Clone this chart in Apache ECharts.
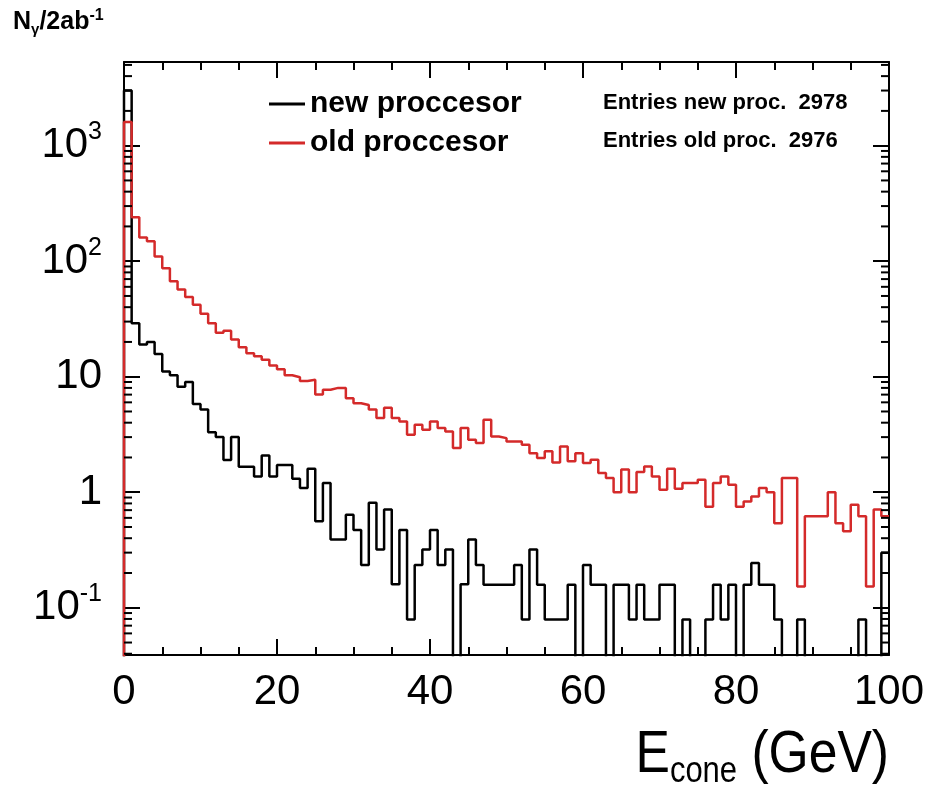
<!DOCTYPE html>
<html>
<head>
<meta charset="utf-8">
<script src="https://cdn.jsdelivr.net/npm/echarts@6/dist/echarts.min.js"></script>
<style>
  html, body { margin: 0; padding: 0; background: #fff; }
  #chart { width: 934px; height: 789px; }
</style>
</head>
<body>
<div id="chart"></div>
<script>
// 100 bins of 1 GeV, E_cone from 0 to 100
const binWidth = 1

// new processor (black), weighted counts per bin, 0 = empty bin
const newProc = [
  3000, 29, 19, 20, 15.7, 11.1, 10.3, 8.2, 9.0, 5.8,
  5.2, 3.3, 3.0, 1.9, 3.0, 1.66, 1.66, 1.37, 2.08, 1.37,
  1.72, 1.72, 1.31, 1.09, 1.6, 0.56, 1.2, 0.39, 0.39, 0.64,
  0.47, 0.235, 0.81, 0.32, 0.71, 0.16, 0.47, 0.079, 0.235, 0.32,
  0.47, 0.235, 0.32, 0, 0.16, 0.39, 0.235, 0.158, 0.158, 0.158,
  0.158, 0.235, 0.079, 0.32, 0.158, 0.079, 0.079, 0.079, 0.158, 0,
  0.235, 0.158, 0.158, 0, 0.158, 0.158, 0.079, 0.158, 0.079, 0.079,
  0.158, 0.158, 0, 0.079, 0, 0, 0.079, 0.158, 0.079, 0.158,
  0, 0.158, 0.244, 0.158, 0.158, 0.079, 0, 0, 0.079, 0,
  0, 0, 0, 0, 0, 0, 0.079, 0, 0, 0.3
]

// old processor (red)
const oldProc = [
  1600, 240, 160, 149, 110, 87, 67, 57, 49, 42,
  35, 29, 24, 25, 21, 18, 16, 15, 14, 12.5,
  11.6, 10.3, 9.9, 9.2, 9.4, 7.0, 7.7, 8.0, 8.0, 6.5,
  5.9, 5.7, 5.2, 4.4, 5.4, 4.4, 4.1, 3.15, 3.84, 3.48,
  4.1, 3.6, 3.36, 2.41, 3.6, 2.85, 2.67, 4.24, 3.04, 2.94,
  2.75, 2.75, 2.58, 2.18, 1.98, 2.26, 1.81, 2.49, 1.85, 2.18,
  1.79, 1.91, 1.47, 1.33, 1.0, 1.57, 1.0, 1.5, 1.67, 1.37,
  1.05, 1.6, 1.07, 1.2, 1.2, 1.28, 0.75, 1.2, 1.37, 1.16,
  0.75, 0.83, 0.92, 1.09, 1.0, 0.54, 1.33, 1.33, 0.153, 0.62,
  0.62, 0.62, 1.0, 0.54, 0.46, 0.78, 0.62, 0.153, 0.71, 0.62
]

const seriesNames = ['new proccesor', 'old proccesor']
const entriesLabels = ['Entries new proc.  2978', 'Entries old proc.  2976']

const xMin = 0, xMax = 100, xInterval = 20
const yMin = 0.039, yMax = 5300
// log-axis minor ticks (2..9 x 10^k)
const yMinorTicks = [
  0.04, 0.05, 0.06, 0.07, 0.08, 0.09,
  0.2, 0.3, 0.4, 0.5, 0.6, 0.7, 0.8, 0.9,
  2, 3, 4, 5, 6, 7, 8, 9,
  20, 30, 40, 50, 60, 70, 80, 90,
  200, 300, 400, 500, 600, 700, 800, 900,
  2000, 3000, 4000, 5000
]

const FONT = "'Liberation Sans', Arial, sans-serif"
const RED = '#d42a2a'
// empty bins are drawn on the lower frame, like ROOT does
const EMPTY = 1e-3

const toSteps = vals => {
  const pts = [[xMin, EMPTY]]
  vals.forEach((v, i) => pts.push([i * binWidth, v > 0 ? v : EMPTY]))
  const last = vals[vals.length - 1]
  pts.push([vals.length * binWidth, last > 0 ? last : EMPTY])
  return pts
}

const yLabel = v => {
  const l = Math.log10(v)
  const e = Math.round(l)
  if (Math.abs(l - e) > 1e-6) return ''
  if (e === 0) return '1'
  if (e === 1) return '10'
  return '10{sup|' + e + '}'
}

const axisLineStyle = { show: true, onZero: false, lineStyle: { color: '#000', width: 2 } }

const xAxisBase = {
  type: 'value', min: xMin, max: xMax, interval: xInterval,
  axisLine: axisLineStyle,
  axisTick: { show: true, inside: true, length: 16, lineStyle: { color: '#000', width: 2 } },
  minorTick: { show: true, splitNumber: 4, length: 8, lineStyle: { color: '#000', width: 2 } },
  splitLine: { show: false }
}

const yAxisBase = {
  type: 'log', logBase: 10, min: yMin, max: yMax,
  axisLine: axisLineStyle,
  axisTick: { show: true, inside: true, length: 16, lineStyle: { color: '#000', width: 2 } },
  splitLine: { show: false }
}

const chart = echarts.init(document.getElementById('chart'))

const option = {
  animation: false,
  backgroundColor: '#fff',
  grid: { left: 124, right: 45, top: 62, bottom: 134 },
  xAxis: [
    Object.assign({}, xAxisBase, {
      position: 'bottom',
      axisLabel: { fontFamily: FONT, fontSize: 42, color: '#000', margin: 16 }
    }),
    Object.assign({}, xAxisBase, { position: 'top', axisLabel: { show: false } })
  ],
  yAxis: [
    Object.assign({}, yAxisBase, {
      position: 'left',
      axisLabel: {
        fontFamily: FONT, fontSize: 42, color: '#000', margin: 22, lineHeight: 52,
        showMinLabel: false, showMaxLabel: false,
        formatter: yLabel,
        rich: { sup: { fontFamily: FONT, fontSize: 25, lineHeight: 25, verticalAlign: 'top', color: '#000' } }
      }
    }),
    Object.assign({}, yAxisBase, { position: 'right', axisLabel: { show: false } })
  ],
  legend: {
    data: seriesNames,
    orient: 'vertical', left: 264, top: 82,
    icon: 'rect', itemWidth: 36, itemHeight: 3, itemGap: 5,
    selectedMode: false,
    textStyle: { fontFamily: FONT, fontWeight: 'bold', fontSize: 30, lineHeight: 34, color: '#000' }
  },
  graphic: [
    {
      type: 'text', x: 603, y: 103,
      style: { text: entriesLabels[0], font: 'bold 22px ' + FONT, fill: '#000', verticalAlign: 'middle' }
    },
    {
      type: 'text', x: 603, y: 141,
      style: { text: entriesLabels[1], font: 'bold 22px ' + FONT, fill: '#000', verticalAlign: 'middle' }
    },
    {
      type: 'text', x: 13, y: 8,
      style: {
        text: '{b|N}{s|γ}{b|/2ab}{u|-1}',
        rich: {
          b: { fontFamily: FONT, fontWeight: 'bold', fontSize: 25, lineHeight: 29, fill: '#000' },
          s: { fontFamily: FONT, fontWeight: 'bold', fontSize: 15, lineHeight: 15, verticalAlign: 'bottom', fill: '#000' },
          u: { fontFamily: FONT, fontWeight: 'bold', fontSize: 16, lineHeight: 16, verticalAlign: 'top', fill: '#000' }
        }
      }
    },
    {
      type: 'text', x: 889, y: 755, scaleX: 0.86,
      style: {
        text: '{e|E}{s|cone}{e| (GeV)}',
        align: 'right', verticalAlign: 'middle',
        rich: {
          e: { fontFamily: FONT, fontSize: 60, lineHeight: 70, fill: '#000' },
          s: { fontFamily: FONT, fontSize: 36, lineHeight: 36, verticalAlign: 'bottom', fill: '#000' }
        }
      }
    }
  ],
  series: [
    {
      name: seriesNames[0], type: 'line', step: 'end', symbol: 'none',
      data: toSteps(newProc),
      lineStyle: { color: '#000', width: 2.5 },
      itemStyle: { color: '#000' },
      z: 3
    },
    {
      name: seriesNames[1], type: 'line', step: 'end', symbol: 'none',
      data: toSteps(oldProc),
      lineStyle: { color: RED, width: 2.5 },
      itemStyle: { color: RED },
      z: 4
    },
    {
      // minor ticks of the log axis, on the left and the right frame
      type: 'custom', silent: true, z: 5,
      data: yMinorTicks.map(v => [xMin, v]),
      renderItem: (params, api) => {
        const l = api.coord([xMin, api.value(1)])
        const r = api.coord([xMax, api.value(1)])
        const st = { stroke: '#000', lineWidth: 2 }
        return {
          type: 'group',
          children: [
            { type: 'line', shape: { x1: l[0], y1: l[1], x2: l[0] + 8, y2: l[1] }, style: st },
            { type: 'line', shape: { x1: r[0], y1: r[1], x2: r[0] - 8, y2: r[1] }, style: st }
          ]
        }
      }
    }
  ]
}

chart.setOption(option)
window.addEventListener('resize', () => chart.resize())
</script>
</body>
</html>
